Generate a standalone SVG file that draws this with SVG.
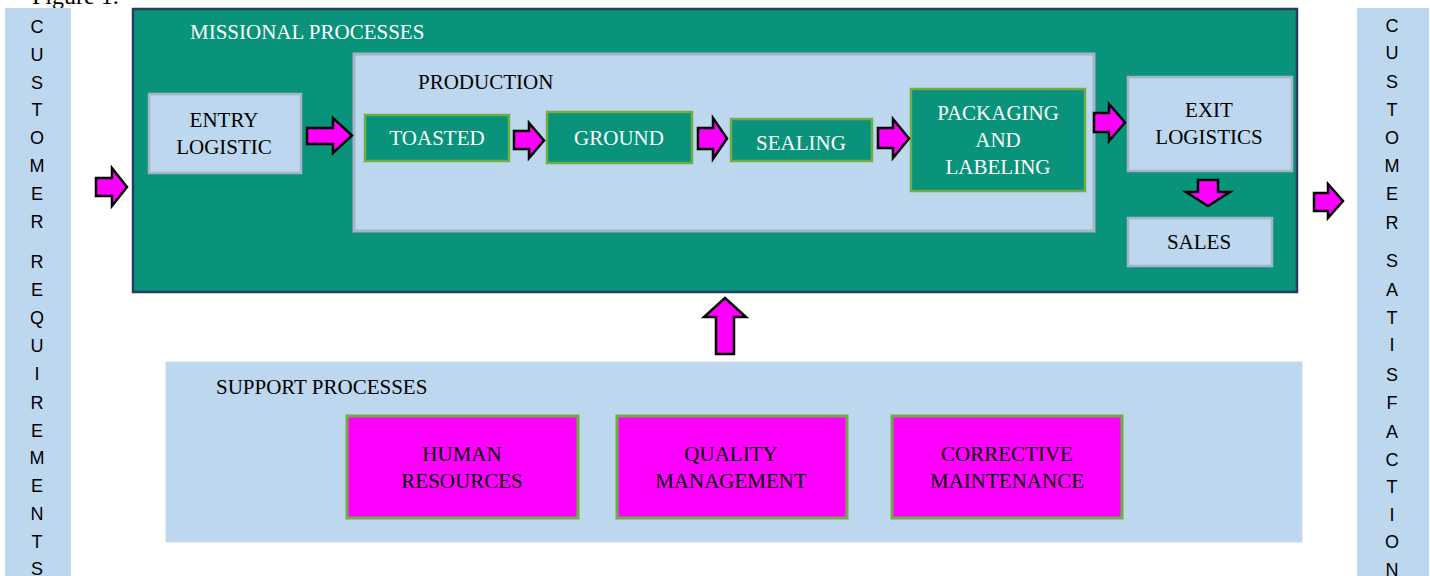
<svg xmlns="http://www.w3.org/2000/svg" width="1430" height="576" viewBox="0 0 1430 576">
<style>
.t{font-family:"Liberation Serif","Times New Roman",serif;font-size:21px;text-anchor:middle}
.tl{font-family:"Liberation Serif","Times New Roman",serif;font-size:21px}
.w{fill:#ffffff}
.k{fill:#000000}
.v{font-family:"Liberation Sans",Arial,sans-serif;font-size:18px;text-anchor:middle;fill:#000}
.lb{fill:#BDD7EE;stroke:#A5B4C6;stroke-width:2.5}
.gr{fill:#08937A;stroke:#70AD47;stroke-width:2.5}
.mg{fill:#FF00FF;stroke:#70AD47;stroke-width:3}
.ar{fill:#FF00FF;stroke:#000;stroke-width:2.5;stroke-linejoin:miter}
</style>
<rect width="1430" height="576" fill="#ffffff"/>
<text class="tl k" x="32" y="4" style="font-size:24px">Figure 1.</text>

<g id="customer-requirements">
<rect x="5" y="8" width="66" height="570" fill="#BDD7EE"/>
<g class="v">
<text x="37" y="33">C</text><text x="37" y="61">U</text><text x="37" y="89">S</text><text x="37" y="116">T</text><text x="37" y="144">O</text><text x="37" y="172">M</text><text x="37" y="200">E</text><text x="37" y="228">R</text>
<text x="37" y="268">R</text><text x="37" y="296">E</text><text x="37" y="324">Q</text><text x="37" y="352">U</text><text x="37" y="380">I</text><text x="37" y="409">R</text><text x="37" y="437">E</text><text x="37" y="464">M</text><text x="37" y="492">E</text><text x="37" y="520">N</text><text x="37" y="548">T</text><text x="37" y="575">S</text>
</g>
</g>

<g id="customer-satisfaction">
<rect x="1357" y="8" width="72" height="570" fill="#BDD7EE"/>
<g class="v">
<text x="1392" y="32">C</text><text x="1392" y="59">U</text><text x="1392" y="88">S</text><text x="1392" y="116">T</text><text x="1392" y="144">O</text><text x="1392" y="172">M</text><text x="1392" y="200">E</text><text x="1392" y="229">R</text>
<text x="1392" y="267">S</text><text x="1392" y="296">A</text><text x="1392" y="324">T</text><text x="1392" y="351">I</text><text x="1392" y="381">S</text><text x="1392" y="409">F</text><text x="1392" y="438">A</text><text x="1392" y="466">C</text><text x="1392" y="493">T</text><text x="1392" y="521">I</text><text x="1392" y="548">O</text><text x="1392" y="576">N</text>
</g>
</g>

<g id="missional-processes">
<rect x="133" y="9" width="1164" height="283" fill="#08937A" stroke="#243F60" stroke-width="2.5"/>
<text class="tl w" x="190" y="39">MISSIONAL PROCESSES</text>
</g>

<g id="entry-logistic">
<rect class="lb" x="149" y="94" width="152" height="79"/>
<text class="t k" x="224" y="127">ENTRY</text>
<text class="t k" x="224" y="154">LOGISTIC</text>
</g>

<g id="production">
<rect x="354" y="54" width="740" height="177" fill="#BDD7EE" stroke="#A5B4C6" stroke-width="3"/>
<text class="tl k" x="418" y="89">PRODUCTION</text>
</g>

<g id="toasted">
<rect class="gr" x="365" y="115" width="144" height="46"/>
<text class="t w" x="437" y="145">TOASTED</text>
</g>

<g id="ground">
<rect class="gr" x="547" y="112" width="145" height="51"/>
<text class="t w" x="619" y="145">GROUND</text>
</g>

<g id="sealing">
<rect class="gr" x="731" y="119" width="141" height="42"/>
<text class="t w" x="801" y="150">SEALING</text>
</g>

<g id="packaging-and-labeling">
<rect class="gr" x="911" y="89" width="174" height="102"/>
<text class="t w" x="998" y="120">PACKAGING</text>
<text class="t w" x="998" y="147">AND</text>
<text class="t w" x="998" y="174">LABELING</text>
</g>

<g id="exit-logistics">
<rect class="lb" x="1128" y="77" width="164" height="94"/>
<text class="t k" x="1209" y="117">EXIT</text>
<text class="t k" x="1209" y="144">LOGISTICS</text>
</g>

<g id="sales">
<rect class="lb" x="1128" y="218" width="144" height="48"/>
<text class="t k" x="1199" y="249">SALES</text>
</g>

<g id="support-processes">
<rect x="166" y="362" width="1136" height="180" fill="#BDD7EE" stroke="#C9DCEF" stroke-width="1"/>
<text class="tl k" x="216" y="394">SUPPORT PROCESSES</text>
</g>

<g id="human-resources">
<rect class="mg" x="347" y="416" width="231" height="102"/>
<text class="t k" x="462" y="461">HUMAN</text>
<text class="t k" x="462" y="488">RESOURCES</text>
</g>

<g id="quality-management">
<rect class="mg" x="617" y="416" width="230" height="102"/>
<text class="t k" x="731" y="461">QUALITY</text>
<text class="t k" x="731" y="488">MANAGEMENT</text>
</g>

<g id="corrective-maintenance">
<rect class="mg" x="892" y="416" width="230" height="102"/>
<text class="t k" x="1007" y="461">CORRECTIVE</text>
<text class="t k" x="1007" y="488">MAINTENANCE</text>
</g>

<g id="connectors">
<path class="ar" d="M96,178 L112,178 L112,168 L127,187 L112,206 L112,196 L96,196 Z"/>
<path class="ar" d="M307,128 L333,128 L333,118 L352,135.5 L333,153 L333,144 L307,144 Z"/>
<path class="ar" d="M514,131 L529,131 L529,123 L544,140.5 L529,158 L529,149 L514,149 Z"/>
<path class="ar" d="M698,128 L713,128 L713,118 L727,138.5 L713,159 L713,149 L698,149 Z"/>
<path class="ar" d="M878,128 L893,128 L893,119 L909,138.5 L893,158 L893,148 L878,148 Z"/>
<path class="ar" d="M1094,113 L1109,113 L1109,104 L1125,122.5 L1109,141 L1109,132 L1094,132 Z"/>
<path class="ar" d="M1198,180 L1218,180 L1218,192 L1230,192 L1208,206 L1186,192 L1198,192 Z"/>
<path class="ar" d="M1314,193 L1328,193 L1328,184 L1343,201 L1328,218 L1328,211 L1314,211 Z"/>
<path class="ar" d="M716,354 L716,317 L704,317 L725,298 L746,317 L734,317 L734,354 Z"/>
</g>
</svg>
